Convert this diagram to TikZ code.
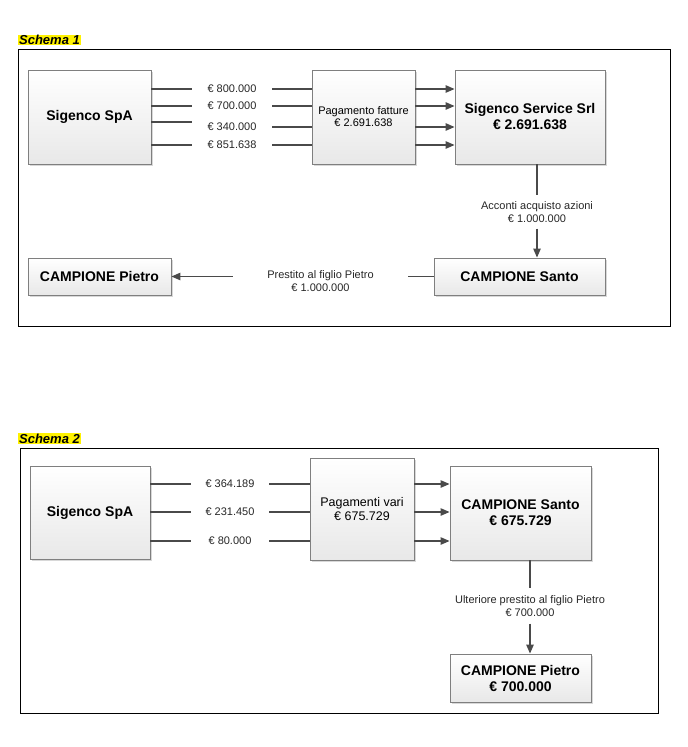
\documentclass[tikz,border=0pt]{standalone}
\usepackage{fontspec}
\setmainfont{Liberation Sans}
\usetikzlibrary{arrows.meta,shadows,calc}
\definecolor{linegray}{HTML}{4A4A4A}
\definecolor{boxborder}{HTML}{7F7F7F}
\tikzset{
 box/.style={draw=boxborder, line width=0.9pt, top color=white, bottom color=black!9,
   drop shadow={shadow xshift=1.5pt, shadow yshift=-1.5pt, fill=black!30, opacity=0.5},
   inner sep=0pt, align=center, font=\fontsize{14}{16}\selectfont\bfseries},
 midbox/.style={box, font=\fontsize{11}{12}\selectfont},
 lbl/.style={inner sep=0pt, align=center, font=\fontsize{11}{12.5}\selectfont, text=black!85},
 conn/.style={draw=linegray, line width=1.2pt},
 arr/.style={conn, -{Triangle[length=9pt,width=7.5pt]}},
 framebox/.style={draw=black, line width=1pt, inner sep=0pt},
 titlebox/.style={fill=yellow, inner xsep=1pt, inner ysep=0.5pt, font=\fontsize{13}{14}\selectfont\bfseries\itshape}
}
\begin{document}
\begin{tikzpicture}[x=1pt,y=-1pt]
\useasboundingbox (0,0) rectangle (688,747);

% ---------------- Schema 1 ----------------
\node[titlebox] (t1) at (49.5,40) {Schema 1};
\node[framebox, minimum width=652pt, minimum height=277pt] (f1) at (344,187.5) {};

\node[box, minimum width=123pt, minimum height=94pt] (sig1) at (89.5,117) {Sigenco SpA};
\node[midbox, minimum width=103pt, minimum height=94pt] (pag1) at (363.5,117) {Pagamento fatture\\€ 2.691.638};
\node[box, minimum width=150pt, minimum height=94pt] (srv1) at (530,117) {Sigenco Service Srl\\€ 2.691.638};

\node[lbl, minimum width=80pt] (l11) at (232,89) {€ 800.000};
\node[lbl, minimum width=80pt] (l12) at (232,106) {€ 700.000};
\node[lbl, minimum width=80pt] (l13) at (232,127) {€ 340.000};
\node[lbl, minimum width=80pt] (l14) at (232,145) {€ 851.638};

\foreach \l in {l11,l12,l14}{
  \draw[conn] (\l.west -| sig1.east) -- (\l.west);
  \draw[conn] (\l.east) -- (\l.east -| pag1.west);
}
\draw[conn] ([yshift=5pt]l13.west -| sig1.east) -- ([yshift=5pt]l13.west);
\draw[conn] (l13.east) -- (l13.east -| pag1.west);

\draw[arr] (l11.east -| pag1.east) -- (l11.east -| srv1.west);
\draw[arr] (l12.east -| pag1.east) -- (l12.east -| srv1.west);
\draw[arr] (l13.east -| pag1.east) -- (l13.east -| srv1.west);
\draw[arr] (l14.east -| pag1.east) -- (l14.east -| srv1.west);

\node[box, minimum width=171pt, minimum height=37pt] (san1) at (519.5,276.5) {CAMPIONE Santo};
\node[box, minimum width=143pt, minimum height=37pt] (pie1) at (99.5,276.5) {CAMPIONE Pietro};

\node[lbl, minimum height=33pt] (lA) at (537,212) {Acconti acquisto azioni\\€ 1.000.000};
\draw[conn] (lA.north |- srv1.south) -- (lA.north);
\draw[arr] (lA.south) -- (lA.south |- san1.north);

\node[lbl, minimum width=175pt] (lP) at (320.5,281) {Prestito al figlio Pietro\\€ 1.000.000};
\draw[conn] (san1.west) -- (san1.west -| lP.east);
\draw[arr] (san1.west -| lP.west) -- (pie1.east);

% ---------------- Schema 2 ----------------
\node[titlebox] (t2) at (49.5,438.5) {Schema 2};
\node[framebox, minimum width=638pt, minimum height=265pt] (f2) at (339,580.5) {};

\node[box, minimum width=120pt, minimum height=93pt] (sig2) at (90,512.5) {Sigenco SpA};
\node[box, font=\fontsize{12.5}{14}\selectfont, minimum width=104pt, minimum height=102pt] (pag2) at (362,509) {Pagamenti vari\\€ 675.729};
\node[box, minimum width=141pt, minimum height=94pt] (san2) at (520.5,513) {CAMPIONE Santo\\€ 675.729};

\node[lbl, minimum width=78pt] (l21) at (230,484) {€ 364.189};
\node[lbl, minimum width=78pt] (l22) at (230,512) {€ 231.450};
\node[lbl, minimum width=78pt] (l23) at (230,541) {€ 80.000};

\foreach \l in {l21,l22,l23}{
  \draw[conn] (\l.west -| sig2.east) -- (\l.west);
  \draw[conn] (\l.east) -- (\l.east -| pag2.west);
  \draw[arr] (\l.east -| pag2.east) -- (\l.east -| san2.west);
}

\node[box, minimum width=141pt, minimum height=48pt] (pie2) at (520.5,678) {CAMPIONE Pietro\\€ 700.000};

\node[lbl, minimum height=35pt] (lU) at (530,606) {Ulteriore prestito al figlio Pietro\\€ 700.000};
\draw[conn] (lU.north |- san2.south) -- (lU.north);
\draw[arr] (lU.south) -- (lU.south |- pie2.north);

\end{tikzpicture}
\end{document}
